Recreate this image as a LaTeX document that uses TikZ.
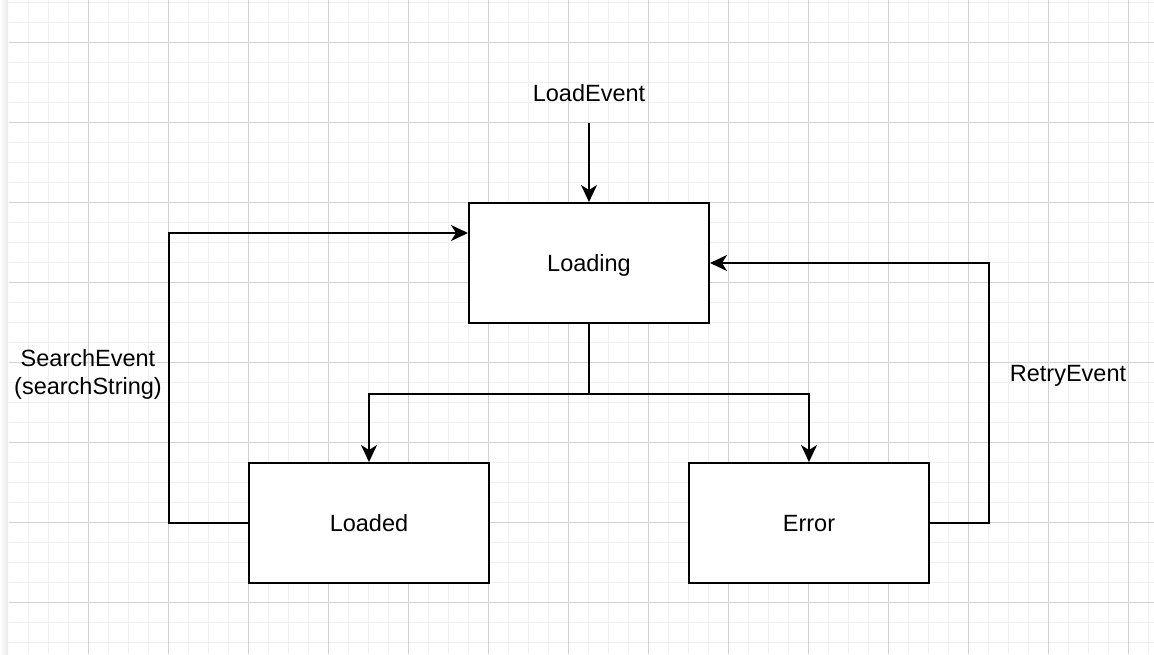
\documentclass[tikz,border=0pt]{standalone}
\usepackage{fontspec}
\setmainfont{Liberation Sans}
\usetikzlibrary{arrows.meta}
\definecolor{gridminor}{HTML}{F0F0F0}
\definecolor{gridmajor}{HTML}{D2D2D2}
\tikzset{
	minorline/.style={gridminor,line width=1pt},
	majorline/.style={gridmajor,line width=1pt},
	statebox/.style={draw,line width=2pt,fill=white,minimum width=240pt,minimum height=120pt,inner sep=0pt,text height=16.8pt,text depth=0pt},
	evlabel/.style={inner sep=0pt,align=center},
	flow/.style={line width=2pt,-{Stealth[length=17pt,width=16pt,inset=5pt]}},
}
\begin{document}
\begin{tikzpicture}[x=1pt,y=-1pt,line join=miter,font=\fontsize{23.5}{28}\selectfont]
				\useasboundingbox (0,0) rectangle (1154,654);
				\fill[white] (0,0) rectangle (1154,654);
				\shade[left color=white,right color=black!9] (0,0) rectangle (8,654);
				\foreach \x in {28,48,...,1148}{\draw[minorline] (\x,0)--(\x,654);}
				\foreach \y in {2,22,...,642}{\draw[minorline] (9,\y)--(1154,\y);}
				\foreach \x in {88,168,...,1128}{\draw[majorline] (\x,0)--(\x,654);}
				\foreach \y in {42,122,...,602}{\draw[majorline] (9,\y)--(1154,\y);}
				\node[statebox] (loading) at (589,263) {Loading};
				\node[statebox] (loaded) at (369,523) {Loaded};
				\node[statebox] (error) at (809,523) {Error};
				\node[evlabel,anchor=base] (loadev) at (589,101) {LoadEvent};
				\node[evlabel] (searchev) at (88,374) {SearchEvent\\(searchString)};
				\node[evlabel,anchor=base] (retryev) at (1068,381) {RetryEvent};
				\path (589,123) coordinate (L) (loading.south)++(0,70) coordinate (S);
				\draw[flow] (L)--(loading);
				\draw[line width=2pt] (loading.south)--(S);
				\draw[flow] (S)-|(loaded);
				\draw[flow] (S)-|(error);
				\draw[flow] (loaded.west)--++(-79,0)|-([yshift=30pt]loading.west);
				\draw[flow] (error.east)--++(59,0)|-(loading.east);
			\end{tikzpicture}
\end{document}
